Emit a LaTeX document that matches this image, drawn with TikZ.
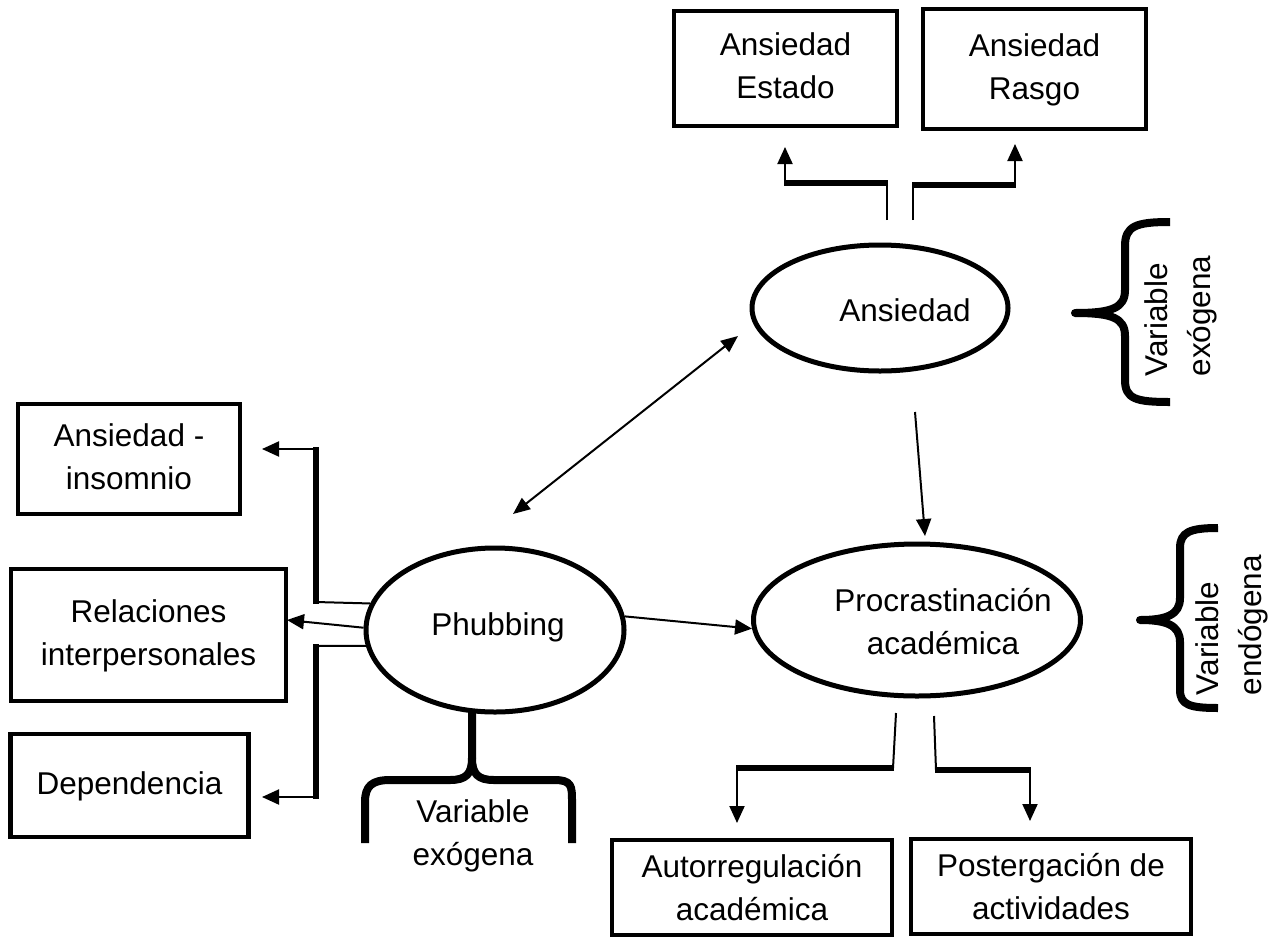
\documentclass[tikz,border=0pt]{standalone}
\usepackage{fontspec}
\setmainfont{Liberation Sans}
\usetikzlibrary{arrows.meta,shapes.geometric}
\begin{document}
\begin{tikzpicture}[x=1pt,y=-1pt,
  txt/.style={font=\fontsize{31.5}{43}\selectfont, align=center, inner sep=0pt},
  box/.style={draw, line width=4.5pt, rectangle, txt},
  ell/.style={draw, line width=5pt, ellipse, inner sep=0pt},
  thinln/.style={line width=2pt},
  bar/.style={line width=5.5pt},
  tipped/.style={-{Triangle[length=17pt,width=15pt]}},
  dtipped/.style={{Triangle[length=17pt,width=14pt]}-{Triangle[length=17pt,width=14pt]}},
  bracepath/.style={line width=8pt, line join=round}]
\fill[white] (0,0) rectangle (1279,937);
\useasboundingbox (0,0) rectangle (1279,937);

% boxes
\node[box, minimum width=223pt, minimum height=115pt] (est) at (785.5,68.5) {Ansiedad\strut\\Estado\strut};
\node[box, minimum width=223pt, minimum height=120pt] (ras) at (1034.5,69) {Ansiedad\strut\\Rasgo\strut};
\node[box, minimum width=222pt, minimum height=110pt] (ains) at (129,459) {Ansiedad -\strut\\insomnio\strut};
\node[box, minimum width=275pt, minimum height=132pt] (rel) at (148.5,635) {Relaciones\strut\\interpersonales\strut};
\node[box, minimum width=238pt, minimum height=103pt] (dep) at (129.5,785.5) {Dependencia\strut};
\node[box, minimum width=280pt, minimum height=95pt, text depth=8pt] (auto) at (752,887.5) {Autorregulación\strut\\académica\strut};
\node[box, minimum width=280pt, minimum height=95pt, text depth=8pt] (post) at (1051,886.5) {Postergación de\strut\\actividades\strut};

% ellipses
\node[ell, minimum width=256pt, minimum height=126pt] (ans) at (880,308) {};
\node[txt] (anstext) at (905,310) {Ansiedad};
\node[ell, minimum width=327pt, minimum height=152pt] (proc) at (917,620) {};
\node[txt] (proctext) at (943,622) {Procrastinación\\académica};
\node[ell, minimum width=258pt, minimum height=164pt] (phub) at (495,630) {};
\node[txt] (phubtext) at (498,627) {Phubbing};

% top connectors
\coordinate (t1a) at (887,220); \coordinate (t1b) at (887,183);
\coordinate (t1c) at (785,183); \coordinate (t1t) at (785,147);
\coordinate (t2a) at (913,220); \coordinate (t2b) at (913,185);
\coordinate (t2c) at (1015,185); \coordinate (t2t) at (1015,144);
\draw[thinln] (t1a) -- (t1b);
\draw[bar] ([xshift=1pt]t1b) -- ([xshift=-1pt]t1c);
\draw[thinln, tipped] ([yshift=2pt]t1c) -- (t1t);
\draw[thinln] (t2a) -- (t2b);
\draw[bar] ([xshift=-1pt]t2b) -- ([xshift=1pt]t2c);
\draw[thinln, tipped] ([yshift=2pt]t2c) -- (t2t);

% left connectors
\coordinate (l1a) at (316,602); \coordinate (l1b) at (316,449); \coordinate (l1t) at (262,449);
\coordinate (l2t) at (287,620);
\coordinate (l3a) at (316,646); \coordinate (l3b) at (316,797); \coordinate (l3t) at (262,797);
\draw[thinln] (phub.168) -- (l1a);
\draw[bar] ([yshift=-2pt]l1a) -- ([yshift=2pt]l1b);
\draw[thinln, tipped] (l1b) -- (l1t);
\draw[thinln, tipped] (phub.179) -- (l2t);
\draw[thinln] (phub.187) -- (l3a);
\draw[bar] ([yshift=2pt]l3a) -- ([yshift=-2pt]l3b);
\draw[thinln, tipped] (l3b) -- (l3t);

% bottom connectors
\coordinate (b1a) at (896,713); \coordinate (b1b) at (893,768);
\coordinate (b1c) at (737,768); \coordinate (b1t) at (737,823);
\coordinate (b2a) at (934,716); \coordinate (b2b) at (936,770);
\coordinate (b2c) at (1030,770); \coordinate (b2t) at (1030,821);
\draw[thinln] (b1a) -- (b1b);
\draw[bar] ([xshift=1pt]b1b) -- ([xshift=-1pt]b1c);
\draw[thinln, tipped] ([yshift=-2pt]b1c) -- (b1t);
\draw[thinln] (b2a) -- (b2b);
\draw[bar] ([xshift=-1pt]b2b) -- ([xshift=1pt]b2c);
\draw[thinln, tipped] ([yshift=-2pt]b2c) -- (b2t);

% main arrows
\coordinate (apa) at (915,412); \coordinate (apt) at (925,536);
\draw[thinln, tipped] (apa) -- (apt);
\coordinate (da) at (513,514); \coordinate (db) at (738,336);
\draw[thinln, dtipped] (da) -- (db);
\draw[thinln, tipped] (phub.6) -- (proc.183);

% braces
\draw[bracepath] (1170,222) .. controls (1136,222) and (1125,226) .. (1125,246) -- (1125,290)
  .. controls (1125,308) and (1112,313) .. (1075,313)
  .. controls (1112,313) and (1125,318) .. (1125,336) -- (1125,380)
  .. controls (1125,399) and (1136,402) .. (1170,402);
\node[txt, rotate=90, align=left] (bt1) at (1181,316) {Variable\\exógena};

\draw[bracepath] (1218,528) .. controls (1190,528) and (1180,532) .. (1180,548) -- (1180,598)
  .. controls (1180,615) and (1166,620) .. (1140,620)
  .. controls (1166,620) and (1180,625) .. (1180,642) -- (1180,690)
  .. controls (1180,705) and (1190,708) .. (1218,708);
\node[txt, rotate=90, align=left] (bt2) at (1232,625) {Variable\\endógena};

\draw[bracepath] (365,843) -- (365,802) .. controls (365,786) and (372,780) .. (390,780) -- (450,780)
  .. controls (466,780) and (472,774) .. (472,758) -- (472,713);
\draw[bracepath] (472,758) .. controls (472,774) and (478,780) .. (494,780) -- (554,780)
  .. controls (572,780) and (572,786) .. (572,802) -- (572,843);
\node[txt] (bt3) at (473,836) {Variable\\exógena};
\end{tikzpicture}
\end{document}
